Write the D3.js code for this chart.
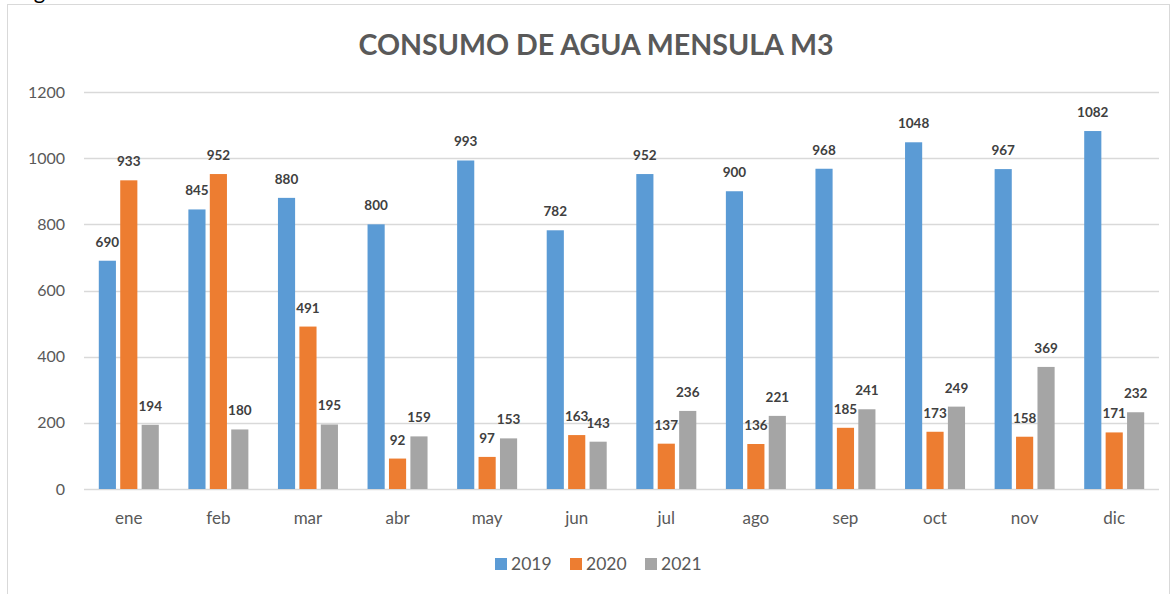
<!doctype html>
<html>
<head>
<meta charset="utf-8"/>
<style>
    html, body { margin: 0; padding: 0; background: #fff; }
    svg { display: block; font-family: 'Lato', 'Open Sans', sans-serif; }
</style>
<script src="https://d3js.org/d3.v7.min.js"></script>
</head>
<body>
<svg id="chart" width="1171" height="594"></svg>
<script>
    var months = ["ene", "feb", "mar", "abr", "may", "jun", "jul", "ago", "sep", "oct", "nov", "dic"];
    var years = ["2019", "2020", "2021"];
    var values2019 = [690, 845, 880, 800, 993, 782, 952, 900, 968, 1048, 967, 1082];
    var values2020 = [933, 952, 491, 92, 97, 163, 137, 136, 185, 173, 158, 171];
    var values2021 = [194, 180, 195, 159, 153, 143, 236, 221, 241, 249, 369, 232];
    var yTicks = [0, 200, 400, 600, 800, 1000, 1200];
    var colours = ["#5B9BD5", "#ED7D31", "#A5A5A5"];

    var series = [values2019, values2020, values2021];
    var svg = d3.select("#chart");

    var margin = {top: 92, right: 12, bottom: 105, left: 84};
    var width = 1171, height = 594;

    // frame + cut-off caption above it (only the descender shows, as in the source)
    svg.append("text")
        .attr("x", 16).attr("y", -1)
        .attr("font-size", 22)
        .attr("fill", "#000")
        .text("Fig");
    svg.append("rect")
        .attr("x", 7.5).attr("y", 4.5)
        .attr("width", 1162).attr("height", 600)
        .attr("fill", "none")
        .attr("stroke", "#D9D9D9");

    var x = d3.scaleBand().domain(months)
        .range([margin.left, width - margin.right]);
    var xInner = d3.scaleBand().domain(years)
        .range([0, 60]).paddingInner(0.2);
    var y = d3.scaleLinear().domain([0, 1200])
        .range([height - margin.bottom, margin.top]);

    // title
    svg.append("text")
        .attr("x", 596).attr("y", 55)
        .attr("text-anchor", "middle")
        .attr("font-size", 28)
        .attr("font-weight", "bold")
        .attr("fill", "#595959")
        .attr("textLength", 475)
        .attr("lengthAdjust", "spacingAndGlyphs")
        .text("CONSUMO DE AGUA MENSULA M3");

    // gridlines
    svg.append("g").selectAll("line")
        .data(yTicks).enter().append("line")
        .attr("x1", margin.left).attr("x2", width - margin.right)
        .attr("y1", function(d) { return Math.round(y(d)) + 0.5; })
        .attr("y2", function(d) { return Math.round(y(d)) + 0.5; })
        .attr("stroke", "#D9D9D9")
        .attr("stroke-width", 1.3);

    // y axis labels
    svg.append("g").selectAll("text")
        .data(yTicks).enter().append("text")
        .attr("x", 65)
        .attr("y", function(d) { return y(d); })
        .attr("dy", "0.35em")
        .attr("text-anchor", "end")
        .attr("font-size", 16)
        .attr("fill", "#595959")
        .text(function(d) { return d; });

    // x axis labels
    svg.append("g").selectAll("text")
        .data(months).enter().append("text")
        .attr("x", function(d) { return x(d) + x.bandwidth() / 2; })
        .attr("y", 524)
        .attr("text-anchor", "middle")
        .attr("font-size", 17)
        .attr("fill", "#595959")
        .text(function(d) { return d; });

    // bars
    var groupOffset = (x.bandwidth() - 60) / 2;
    series.forEach(function(vals, s) {
        var g = svg.append("g");
        g.selectAll("rect")
            .data(vals).enter().append("rect")
            .attr("x", function(d, i) { return x(months[i]) + groupOffset + xInner(years[s]); })
            .attr("y", function(d) { return y(d); })
            .attr("width", xInner.bandwidth())
            .attr("height", function(d) { return y(0) - y(d); })
            .attr("fill", colours[s]);
        g.selectAll("text")
            .data(vals).enter().append("text")
            .attr("x", function(d, i) { return x(months[i]) + groupOffset + xInner(years[s]) + xInner.bandwidth() / 2; })
            .attr("y", function(d) { return y(d) - 14; })
            .attr("text-anchor", "middle")
            .attr("font-size", 13.5)
            .attr("font-weight", "bold")
            .attr("fill", "#404040")
            .text(function(d) { return d; });
    });

    // legend
    var legendX = [495, 570, 645];
    var legend = svg.append("g");
    years.forEach(function(yr, i) {
        legend.append("rect")
            .attr("x", legendX[i]).attr("y", 558)
            .attr("width", 12).attr("height", 12)
            .attr("fill", colours[i]);
        legend.append("text")
            .attr("x", legendX[i] + 16).attr("y", 570)
            .attr("font-size", 17.5)
            .attr("fill", "#595959")
            .text(yr);
    });
</script>
</body>
</html>
